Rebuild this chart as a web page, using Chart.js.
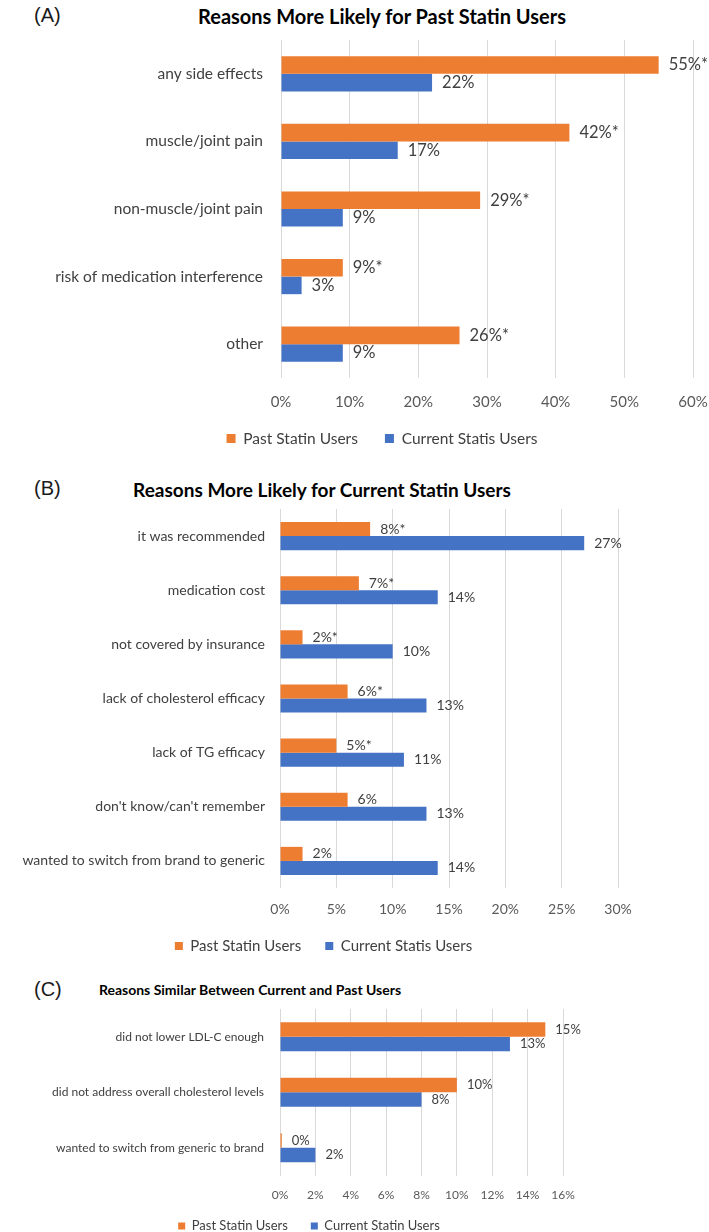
<!DOCTYPE html>
<html><head><meta charset="utf-8">
<script src="https://cdn.jsdelivr.net/npm/chart.js@4.4.1/dist/chart.umd.min.js"></script>
<style>
html,body{margin:0;padding:0;background:#fff;overflow:hidden;}
#page{position:relative;width:709px;height:1232px;overflow:hidden;background:#fff;}
canvas{position:absolute;left:0;}
.tag{position:absolute;font-family:"Liberation Sans",Arial,sans-serif;font-size:20px;color:#1a1a1a;line-height:1;transform:translateY(-50%);white-space:nowrap;}
.ttl{position:absolute;font-family:Lato,"Open Sans",sans-serif;font-weight:bold;color:#000;white-space:nowrap;line-height:1;transform:translate(-50%,-50%);}
</style></head><body><div id="page">
<div class="tag" style="left:34px;top:15px">(A)</div>
<div class="ttl" style="left:382px;top:16px;font-size:20px">Reasons More Likely for Past Statin Users</div>
<canvas id="cA" width="709" height="470" style="top:0px"></canvas>
<div class="tag" style="left:34px;top:488px">(B)</div>
<div class="ttl" style="left:322px;top:489px;font-size:19px">Reasons More Likely for Current Statin Users</div>
<canvas id="cB" width="709" height="516" style="top:456px"></canvas>
<div class="tag" style="left:34px;top:989px">(C)</div>
<div class="ttl" style="left:250px;top:990px;font-size:14px">Reasons Similar Between Current and Past Users</div>
<canvas id="cC" width="709" height="290" style="top:963px"></canvas>
</div>
<script>
// ---------- data ----------
const pastName = "Past Statin Users";
const currentNameAB = "Current Statis Users";
const currentNameC = "Current Statin Users";

const categoriesA = ["any side effects", "muscle/joint pain", "non-muscle/joint pain", "risk of medication interference", "other"];
const pastA = [55, 42, 29, 9, 26];
const currentA = [22, 17, 9, 3, 9];
const pastSigA = [true, true, true, true, true];
const ticksA = [0, 10, 20, 30, 40, 50, 60];

const categoriesB = ["it was recommended", "medication cost", "not covered by insurance", "lack of cholesterol efficacy", "lack of TG efficacy", "don't know/can't remember", "wanted to switch from brand to generic"];
const pastB = [8, 7, 2, 6, 5, 6, 2];
const currentB = [27, 14, 10, 13, 11, 13, 14];
const pastSigB = [true, true, true, true, true, false, false];
const ticksB = [0, 5, 10, 15, 20, 25, 30];

const categoriesC = ["did not lower LDL-C enough", "did not address overall cholesterol levels", "wanted to switch from generic to brand"];
const pastC = [15, 10, 0.1];
const currentC = [13, 8, 2];
const pastSigC = [false, false, false];
const ticksC = [0, 2, 4, 6, 8, 10, 12, 14, 16];

// ---------- styling ----------
const ORANGE = '#ED7D31', BLUE = '#4472C4';
const FONT = 'Lato, "Open Sans", sans-serif';

const valueLabels = {
  id: 'valueLabels',
  afterDatasetsDraw(chart, args, opts) {
    const ctx = chart.ctx;
    ctx.save();
    ctx.font = opts.size + 'px ' + FONT;
    ctx.fillStyle = '#404040';
    ctx.textAlign = 'left';
    ctx.textBaseline = 'middle';
    chart.data.datasets.forEach((ds, di) => {
      const meta = chart.getDatasetMeta(di);
      meta.data.forEach((el, i) => {
        const txt = Math.round(ds.data[i]) + '%' + (ds.sig && ds.sig[i] ? '*' : '');
        ctx.fillText(txt, el.x + opts.offset, el.y);
      });
    });
    ctx.restore();
  }
};
// move the legend so its row is centred at (cx, cy) in canvas coordinates
const legendPlace = {
  id: 'legendPlace',
  afterLayout(chart, args, opts) {
    const lg = chart.legend;
    if (!lg) return;
    const lo = lg.options.labels;
    const fs = lo.font.size;
    const itemH = Math.max(fs, lo.boxHeight || fs);
    const dy = opts.cy - (lg.top + lo.padding + itemH / 2);
    lg.top += dy; lg.bottom += dy;
    const dx = opts.cx - (lg.left + lg.right) / 2;
    lg.left += dx; lg.right += dx;
  }
};

function makeChart(id, p) {
  const H = p.height;
  const top = p.chartTop - p.canvasTop;
  const bottom = p.chartBottom - p.canvasTop;
  const legendH = p.legendSize + p.legendPad + 10;
  const xHeight = H - legendH - bottom;
  const tickLen = (p.tickCenter - p.chartBottom) - p.tickSize * 1.2 / 2;
  return new Chart(document.getElementById(id), {
    type: 'bar',
    data: {
      labels: p.categories,
      datasets: [
        { label: pastName, data: p.past, sig: p.sig, backgroundColor: ORANGE, categoryPercentage: 0.52, barPercentage: 1.0 },
        { label: p.currentName, data: p.current, backgroundColor: BLUE, categoryPercentage: 0.52, barPercentage: 1.0 }
      ]
    },
    options: {
      indexAxis: 'y',
      responsive: false,
      animation: false,
      events: [],
      layout: { padding: { top: top, right: 709 - p.chartRight, left: 0, bottom: 0 } },
      scales: {
        x: {
          min: p.ticks[0], max: p.ticks[p.ticks.length - 1],
          afterBuildTicks: s => { s.ticks = p.ticks.map(v => ({ value: v })); },
          afterFit: s => { s.height = xHeight; },
          grid: { color: '#d9d9d9', lineWidth: 1, drawTicks: true, tickLength: tickLen, tickColor: 'rgba(0,0,0,0)' },
          border: { display: false },
          ticks: { padding: 0, color: '#595959', font: { family: FONT, size: p.tickSize }, callback: v => v + '%', maxRotation: 0, autoSkip: false }
        },
        y: {
          afterFit: s => { s.width = p.chartLeft; },
          grid: { display: false, drawTicks: false },
          border: { display: false },
          ticks: { padding: p.yPad, color: '#404040', font: { family: FONT, size: p.catSize }, autoSkip: false }
        }
      },
      plugins: {
        legend: {
          position: 'bottom',
          labels: { boxWidth: p.box, boxHeight: p.box, padding: p.legendPad, color: '#404040', font: { family: FONT, size: p.legendSize } }
        },
        tooltip: { enabled: false },
        valueLabels: { size: p.valueSize, offset: p.valueOffset },
        legendPlace: { cx: p.legendCx, cy: p.legendCy - p.canvasTop }
      }
    },
    plugins: [valueLabels, legendPlace]
  });
}

makeChart('cA', {
  categories: categoriesA, past: pastA, current: currentA, sig: pastSigA, ticks: ticksA, currentName: currentNameAB,
  canvasTop: 0, height: 470, chartTop: 40, chartBottom: 378, chartLeft: 281, chartRight: 693,
  tickCenter: 402, legendCy: 438.5, legendCx: 382, yPad: 18,
  tickSize: 15, catSize: 15.5, legendSize: 15.5, legendPad: 27, box: 9, valueSize: 16.5, valueOffset: 10
});
makeChart('cB', {
  categories: categoriesB, past: pastB, current: currentB, sig: pastSigB, ticks: ticksB, currentName: currentNameAB,
  canvasTop: 456, height: 516, chartTop: 509, chartBottom: 888, chartLeft: 280, chartRight: 618,
  tickCenter: 909, legendCy: 946, legendCx: 323.5, yPad: 15,
  tickSize: 14, catSize: 14, legendSize: 15, legendPad: 24, box: 8, valueSize: 14, valueOffset: 10
});
makeChart('cC', {
  categories: categoriesC, past: pastC, current: currentC, sig: pastSigC, ticks: ticksC, currentName: currentNameC,
  canvasTop: 963, height: 290, chartTop: 1009, chartBottom: 1175.5, chartLeft: 280, chartRight: 563,
  tickCenter: 1195, legendCy: 1226, legendCx: 309, yPad: 16,
  tickSize: 12, catSize: 12, legendSize: 13, legendPad: 23, box: 7, valueSize: 13, valueOffset: 10
});
</script>
</body></html>
